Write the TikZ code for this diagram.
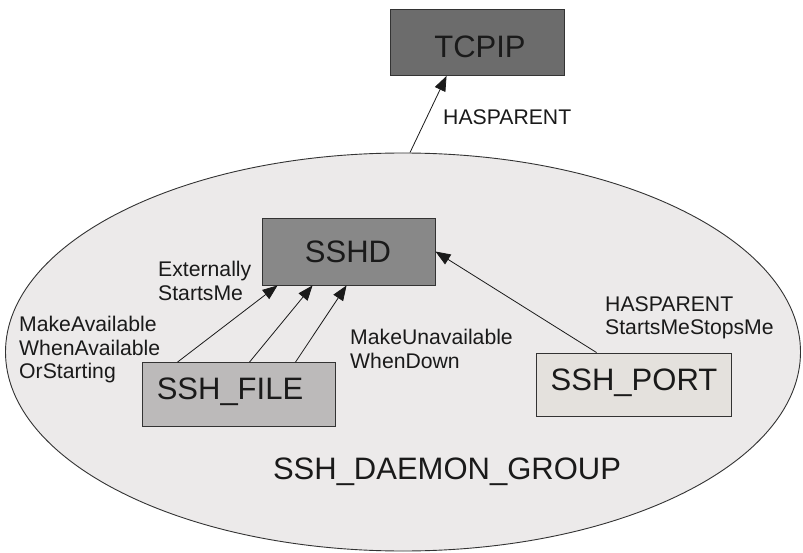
\documentclass[tikz,border=0pt]{standalone}
\usepackage{fontspec}
\setmainfont{Liberation Sans}
\usetikzlibrary{arrows.meta,shapes.geometric}
\definecolor{tcpipfill}{HTML}{6C6C6C}
\definecolor{sshdfill}{HTML}{888888}
\definecolor{filefill}{HTML}{BCBABA}
\definecolor{portfill}{HTML}{E4E1DD}
\definecolor{grpfill}{HTML}{ECEAEA}
\definecolor{edge}{HTML}{333333}
\definecolor{ink}{HTML}{1A1A1A}
\begin{document}
\begin{tikzpicture}[x=1pt,y=-1pt,
  box/.style={draw=edge, line width=0.9pt, inner sep=0pt},
  bigtxt/.style={font=\fontsize{31}{31}\selectfont, text=ink, inner sep=0pt},
  lbl/.style={font=\fontsize{21.2}{23.7}\selectfont, text=ink, align=left, inner sep=0pt, anchor=north west},
  conn/.style={draw=ink, line width=0.8pt, -{Triangle[length=15pt,width=11.5pt]}}
]
\useasboundingbox (0,0) rectangle (803,553);
\fill[white] (0,0) rectangle (803,553);
% group ellipse
\node[ellipse, draw=edge, fill=grpfill, line width=0.9pt, minimum width=795pt, minimum height=398pt, inner sep=0pt] (grp) at (403,352) {};
\node[bigtxt] (grplbl) at (447,472) {SSH\_DAEMON\_GROUP};
% boxes
\node[box, fill=tcpipfill, minimum width=174pt, minimum height=66pt] (tcpip) at (477,42.5) {};
\node[bigtxt] (tcpiptxt) at (480,47) {TCPIP};
\node[box, fill=sshdfill, minimum width=173pt, minimum height=67pt] (sshd) at (348.5,251.5) {};
\node[bigtxt] (sshdtxt) at (348,252) {SSHD};
\node[box, fill=filefill, minimum width=193pt, minimum height=64pt] (file) at (239,394.5) {};
\node[bigtxt] (filetxt) at (230,391.5) {SSH\_FILE};
\node[box, fill=portfill, minimum width=195pt, minimum height=63pt] (port) at (633.5,384.5) {};
\node[bigtxt] (porttxt) at (634,382.5) {SSH\_PORT};
% connectors
\draw[conn] ([xshift=7pt]grp.north) -- ([xshift=57pt]tcpip.south west);
\draw[conn] ([xshift=35.5pt]file.north west) -- ([xshift=16pt]sshd.south west);
\draw[conn] ([xshift=107.5pt]file.north west) -- ([xshift=51pt]sshd.south west);
\draw[conn] ([xshift=153.5pt]file.north west) -- ([xshift=85pt]sshd.south west);
\draw[conn] ([xshift=61pt]port.north west) -- (sshd.east);
% labels
\node[lbl] (l1) at (443,109) {HASPARENT};
\node[lbl] (l2) at (158,261) {Externally\\StartsMe};
\node[lbl] (l3) at (19,316) {MakeAvailable\\WhenAvailable\\OrStarting};
\node[lbl] (l4) at (350,329) {MakeUnavailable\\WhenDown};
\node[lbl] (l5) at (605,296) {HASPARENT\\StartsMeStopsMe};
\end{tikzpicture}
\end{document}
